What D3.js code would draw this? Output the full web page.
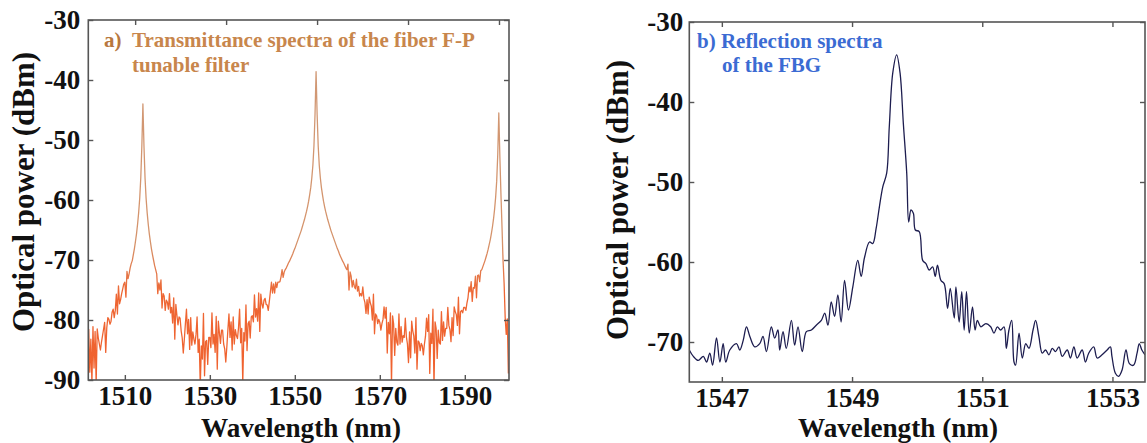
<!DOCTYPE html>
<html>
<head>
<meta charset="utf-8">
<script src="https://cdn.jsdelivr.net/npm/d3@7"></script>
<style>
  html, body { margin: 0; padding: 0; background: #fff; }
  svg { display: block; }
  text { font-family: "Liberation Serif", "Times New Roman", serif; font-weight: bold; }
</style>
</head>
<body>
<svg id="chart" width="1147" height="443"></svg>
<script>
// ---------- data ----------
// a) F-P tunable filter transmittance, sampled every 0.25 nm from 1501.5 nm
const fpStart = 1501.5;
const fpStep = 0.25;
const fpPower = [
  -81.5,-88.7,-83.2,-90.4,-81.1,-88.0,-81.9,-90.6,-81.5,-83.0,
  -84.0,-85.0,-83.7,-82.6,-81.5,-80.4,-85.4,-81.3,-79.6,-79.9,
  -80.7,-80.2,-78.7,-78.2,-79.6,-78.4,-75.7,-79.0,-74.3,-77.3,
  -76.6,-75.6,-74.8,-74.0,-73.7,-76.2,-71.9,-73.1,-72.3,-71.3,
  -70.6,-70.1,-69.1,-68.1,-66.9,-65.6,-64.0,-62.1,-59.7,-56.3,
  -51.0,-44.0,-51.0,-56.3,-59.7,-62.1,-64.0,-65.6,-66.9,-68.1,
  -69.1,-70.0,-70.9,-71.6,-72.3,-75.6,-73.8,-75.0,-73.3,-78.0,
  -75.6,-76.0,-78.4,-76.7,-77.0,-78.2,-75.6,-78.8,-77.9,-80.5,
  -76.3,-83.2,-77.4,-79.2,-80.8,-79.5,-79.7,-81.8,-83.0,-85.5,
  -83.2,-80.6,-78.2,-82.3,-79.9,-84.9,-79.6,-84.2,-82.0,-83.2,
  -84.0,-82.4,-79.5,-85.4,-83.2,-91.0,-84.3,-86.5,-78.9,-89.3,
  -83.6,-83.4,-87.4,-82.9,-82.9,-84.6,-78.8,-84.0,-82.4,-85.4,
  -79.4,-88.2,-80.2,-82.1,-83.9,-81.7,-81.7,-84.0,-84.8,-87.0,
  -84.5,-81.6,-79.0,-82.9,-80.3,-85.0,-79.5,-84.0,-81.6,-82.6,
  -83.1,-81.3,-78.2,-83.8,-81.4,-90.5,-82.1,-83.5,-77.5,-85.1,
  -80.6,-80.2,-83.0,-79.5,-79.3,-80.3,-75.8,-79.5,-78.1,-80.2,
  -75.5,-81.9,-75.7,-77.3,-78.0,-76.7,-76.4,-77.4,-77.5,-78.4,
  -76.9,-75.3,-73.7,-75.5,-74.0,-75.5,-73.7,-74.6,-73.7,-73.7,
  -73.6,-72.8,-71.6,-72.9,-72.0,-71.6,-71.3,-70.9,-70.5,-70.2,
  -69.8,-69.4,-69.0,-68.5,-68.1,-67.6,-67.1,-66.6,-66.1,-65.6,
  -65.1,-64.5,-63.9,-63.3,-62.6,-61.9,-61.1,-60.2,-59.1,-57.9,
  -56.3,-54.2,-51.0,-45.8,-38.6,-45.8,-51.0,-54.2,-56.3,-57.9,
  -59.1,-60.2,-61.1,-61.9,-62.6,-63.3,-63.9,-64.5,-65.1,-65.6,
  -66.1,-66.6,-67.1,-67.6,-68.1,-68.5,-69.0,-69.4,-69.8,-70.2,
  -70.5,-70.9,-71.3,-71.6,-70.7,-75.0,-72.0,-72.7,-74.5,-73.4,
  -74.4,-74.8,-73.2,-75.2,-74.4,-76.0,-75.6,-76.0,-74.5,-76.4,
  -77.1,-78.9,-76.6,-79.0,-76.2,-77.1,-77.7,-80.0,-75.7,-82.3,
  -79.0,-79.3,-80.6,-79.9,-80.4,-81.7,-80.6,-79.9,-77.8,-79.7,
  -77.9,-85.5,-80.4,-82.3,-78.8,-90.7,-79.3,-80.7,-85.9,-81.4,
  -83.7,-84.2,-79.0,-84.0,-81.1,-83.7,-82.6,-82.9,-79.7,-82.8,
  -84.0,-87.1,-82.0,-86.3,-80.2,-81.8,-82.7,-85.5,-79.6,-88.2,
  -83.5,-83.7,-85.1,-83.9,-84.3,-85.8,-84.0,-82.7,-79.7,-81.9,
  -79.1,-88.9,-82.2,-83.9,-78.2,-91.0,-80.3,-81.4,-86.4,-81.7,
  -83.8,-84.0,-78.6,-83.4,-80.3,-82.7,-81.4,-81.4,-77.9,-80.9,
  -81.6,-83.6,-79.6,-82.6,-77.8,-78.6,-79.1,-80.9,-76.2,-82.3,
  -78.6,-78.4,-78.8,-77.9,-77.9,-78.4,-77.2,-76.3,-74.5,-75.3,
  -73.6,-76.9,-74.6,-74.7,-72.7,-76.3,-72.6,-72.5,-73.6,-71.8,
  -71.6,-71.1,-70.6,-70.1,-69.5,-68.9,-68.2,-67.4,-66.6,-65.6,
  -64.5,-63.2,-61.6,-59.6,-56.9,-52.5,-45.5,-52.8,-58.9,-64.4,
  -70.1,-73.9,-79.6,-82.4,-79.8,-88.9
];

// b) FBG reflection spectrum
const fbgWavelength = [
  1546.500,1546.562,1546.638,1546.715,1546.765,1546.815,1546.858,1546.918,1546.970,1547.020,
  1547.060,1547.122,1547.225,1547.275,1547.328,1547.378,1547.430,1547.505,1547.582,1547.632,
  1547.685,1547.760,1547.812,1547.862,1547.888,1547.940,1547.990,1548.068,1548.118,1548.170,
  1548.235,1548.298,1548.375,1548.450,1548.528,1548.580,1548.630,1548.680,1548.732,1548.782,
  1548.832,1548.885,1548.945,1549.012,1549.088,1549.140,1549.190,1549.268,1549.318,1549.370,
  1549.420,1549.472,1549.532,1549.572,1549.625,1549.685,1549.738,1549.788,1549.840,1549.870,
  1549.905,1549.942,1549.972,1550.032,1550.085,1550.135,1550.185,1550.238,1550.278,1550.312,
  1550.365,1550.415,1550.468,1550.508,1550.570,1550.595,1550.645,1550.685,1550.722,1550.758,
  1550.800,1550.850,1550.890,1550.925,1550.978,1551.055,1551.130,1551.180,1551.232,1551.282,
  1551.335,1551.370,1551.410,1551.452,1551.488,1551.512,1551.565,1551.615,1551.668,1551.718,
  1551.780,1551.820,1551.870,1551.922,1551.972,1552.025,1552.075,1552.125,1552.178,1552.228,
  1552.305,1552.355,1552.408,1552.458,1552.535,1552.585,1552.635,1552.712,1552.765,1552.840,
  1552.918,1552.968,1552.992,1553.045,1553.095,1553.148,1553.208,1553.260,1553.325,1553.378,
  1553.412,1553.452,1553.500
];
const fbgPower = [
  -71.0,-71.8,-72.3,-71.8,-72.5,-71.4,-72.9,-69.5,-72.5,-70.2,
  -72.5,-71.0,-70.2,-71.0,-69.8,-68.1,-69.3,-70.6,-70.2,-69.3,
  -71.2,-68.1,-69.5,-68.5,-71.0,-68.7,-70.8,-67.3,-70.4,-68.1,
  -71.2,-68.7,-68.5,-67.9,-67.3,-66.4,-67.9,-65.0,-66.8,-64.1,
  -67.5,-62.3,-66.0,-63.1,-59.8,-61.8,-59.5,-57.5,-57.7,-55.8,
  -53.1,-50.6,-48.9,-43.1,-36.4,-34.1,-36.4,-42.7,-48.9,-55.0,
  -53.5,-53.9,-56.0,-56.2,-59.8,-60.2,-61.0,-60.6,-61.8,-60.4,
  -62.3,-62.7,-65.8,-63.3,-67.0,-63.1,-67.5,-63.7,-68.5,-63.7,
  -68.9,-65.6,-68.5,-67.3,-68.1,-67.7,-68.1,-68.9,-68.1,-68.5,
  -68.1,-70.8,-68.5,-67.3,-72.5,-72.9,-68.9,-72.0,-70.2,-70.8,
  -68.5,-67.3,-69.3,-71.4,-71.0,-71.6,-70.8,-71.2,-70.6,-71.8,
  -71.0,-72.0,-70.6,-72.0,-71.0,-72.5,-71.4,-70.6,-72.0,-71.6,
  -71.0,-70.6,-71.8,-73.9,-74.3,-73.5,-71.0,-72.7,-72.9,-71.4,
  -70.2,-71.0,-71.6
];

// axis ticks
const fpXTicks = [1510, 1530, 1550, 1570, 1590];
const fpYTicks = [-30, -40, -50, -60, -70, -80, -90];
const fbgXTicks = [1547, 1549, 1551, 1553];
const fbgYTicks = [-30, -40, -50, -60, -70];

// ---------- drawing ----------
const svg = d3.select("#chart");
const defs = svg.append("defs");
const FRAME = "#555";

// thin peak flanks read lighter/tan, the dense noise floor reads saturated orange
const grad = defs.append("linearGradient")
  .attr("id", "fpStroke").attr("gradientUnits", "userSpaceOnUse")
  .attr("x1", 0).attr("x2", 0).attr("y1", 20).attr("y2", 380);
grad.append("stop").attr("offset", "0%").attr("stop-color", "#cf9a78");
grad.append("stop").attr("offset", "62%").attr("stop-color", "#d5936b");
grad.append("stop").attr("offset", "76%").attr("stop-color", "#ee6633");
grad.append("stop").attr("offset", "100%").attr("stop-color", "#f0612e");

function drawPanel(opt) {
  const g = svg.append("g");
  const { x, y, xTop } = opt;
  const [x0, x1] = x.range();
  const [y1, y0] = y.range();

  const clipId = "clip-" + opt.id;
  defs.append("clipPath").attr("id", clipId)
    .append("rect").attr("x", x0).attr("y", y0)
    .attr("width", x1 - x0).attr("height", y1 - y0);

  // spectrum trace
  g.append("path")
    .datum(opt.points)
    .attr("clip-path", `url(#${clipId})`)
    .attr("fill", "none")
    .attr("stroke", opt.color)
    .attr("stroke-width", opt.width)
    .attr("stroke-linejoin", "round")
    .attr("d", d3.line().x(d => x(d[0])).y(d => y(d[1])).curve(opt.curve));

  // axes, ticks pointing inward on all four sides
  g.append("g").attr("transform", `translate(0,${y1})`)
    .call(d3.axisBottom(x).tickValues(opt.xTicks).tickSizeInner(-5).tickSizeOuter(0)
      .tickPadding(6).tickFormat(d3.format("d")));
  g.append("g").attr("transform", `translate(${x0},0)`)
    .call(d3.axisLeft(y).tickValues(opt.yTicks).tickSizeInner(-5).tickSizeOuter(0)
      .tickPadding(opt.yPad).tickFormat(d => String(d)));
  g.append("g").attr("transform", `translate(0,${y0})`)
    .call(d3.axisTop(xTop || x).tickValues(opt.xTicks).tickSizeInner(-5).tickSizeOuter(0).tickFormat(""));
  g.append("g").attr("transform", `translate(${x1},0)`)
    .call(d3.axisRight(y).tickValues(opt.yTicks).tickSizeInner(-5).tickSizeOuter(0).tickFormat(""));

  g.selectAll(".domain").remove();
  g.selectAll(".tick line").attr("stroke", FRAME).attr("stroke-width", 1.4);
  g.selectAll(".tick text")
    .attr("fill", "#111")
    .style("font-size", "27px")
    .style("font-family", "'Liberation Serif', 'Times New Roman', serif")
    .style("font-weight", "bold");

  g.append("rect")
    .attr("x", x0).attr("y", y0).attr("width", x1 - x0).attr("height", y1 - y0)
    .attr("fill", "none").attr("stroke", FRAME).attr("stroke-width", 1.6);

  // axis titles
  g.append("text")
    .attr("x", opt.xTitle[0]).attr("y", opt.xTitle[1])
    .attr("text-anchor", "middle")
    .attr("textLength", 200).attr("lengthAdjust", "spacingAndGlyphs")
    .style("font-size", "28px").attr("fill", "#111")
    .text("Wavelength (nm)");
  g.append("text")
    .attr("transform", `translate(${opt.yTitle[0]},${opt.yTitle[1]}) rotate(-90)`)
    .attr("text-anchor", "middle")
    .style("font-size", "31px").attr("fill", "#111")
    .text("Optical power (dBm)");

  // panel caption
  opt.caption.forEach(c => {
    g.append("text").attr("x", c.x).attr("y", c.y)
      .style("font-size", "21px").attr("fill", c.color || opt.captionColor)
      .text(c.t);
  });
}

// a) F-P filter
const fpX = d3.scaleLinear().domain([1501.4, 1600.4]).range([88.3, 509]);
const fpXTop = d3.scaleLinear().domain([1499.7, 1592.2]).range([88.3, 509]);
const fpY = d3.scaleLinear().domain([-90, -30]).range([380, 20]);
drawPanel({
  id: "fp",
  x: fpX, xTop: fpXTop, y: fpY,
  points: fpPower.map((v, i) => [fpStart + i * fpStep, v]),
  color: "url(#fpStroke)", width: 1.3, curve: d3.curveLinear,
  xTicks: fpXTicks, yTicks: fpYTicks, yPad: 8,
  xTitle: [301, 437], yTitle: [34, 192],
  captionColor: "#c8864c",
  caption: [
    { x: 104, y: 47, t: "a)", color: "#b8783f" },
    { x: 132, y: 47, t: "Transmittance spectra of the fiber F-P" },
    { x: 132, y: 72, t: "tunable filter" }
  ]
});

// b) FBG reflection
const fbgX = d3.scaleLinear().domain([1546.5, 1553.5]).range([689.3, 1145]);
const fbgY = d3.scaleLinear().domain([-75, -30]).range([382, 22]);
drawPanel({
  id: "fbg",
  x: fbgX, y: fbgY,
  points: fbgWavelength.map((w, i) => [w, fbgPower[i]]),
  color: "#1d1d4f", width: 1.3, curve: d3.curveCatmullRom.alpha(0.5),
  xTicks: fbgXTicks, yTicks: fbgYTicks, yPad: 6,
  xTitle: [898, 437], yTitle: [628, 200],
  captionColor: "#3b6bd3",
  caption: [
    { x: 697, y: 48, t: "b) Reflection spectra" },
    { x: 722, y: 72, t: "of the FBG" }
  ]
});
</script>
</body>
</html>
